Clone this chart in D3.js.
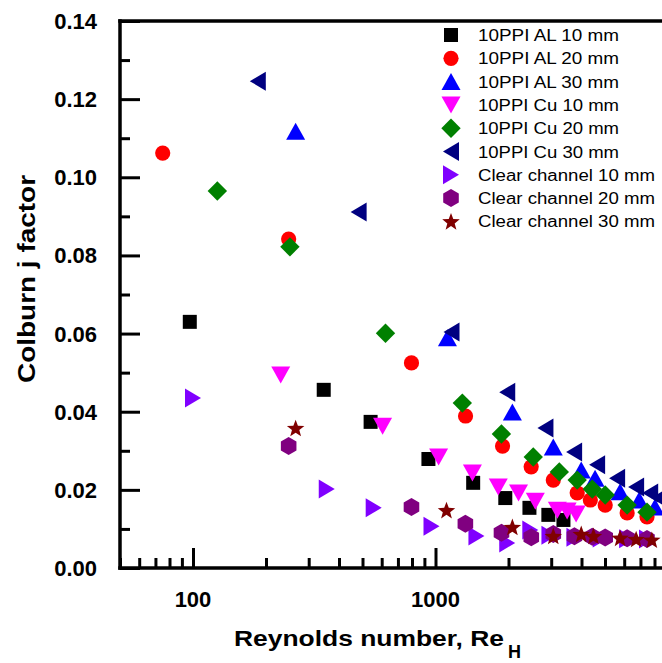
<!DOCTYPE html>
<html>
<head>
<meta charset="utf-8">
<script src="https://cdn.jsdelivr.net/npm/d3@7"></script>
<style>
  html, body { margin: 0; padding: 0; background: #fff; }
  svg { display: block; }
  text { font-family: "Liberation Sans", Arial, sans-serif; }
</style>
</head>
<body>
<svg id="chart" width="662" height="663"></svg>
<script>
// Colburn j factor vs Reynolds number for metal foams and clear channels
const alRe10 = [97, 346, 540, 935, 1430, 1940, 2440, 2920, 3370];
const alJ10  = [0.0630, 0.0456, 0.0374, 0.0279, 0.0218, 0.0179, 0.0154, 0.0136, 0.0123];

const alRe20 = [75, 248, 796, 1330, 1890, 2480, 3060, 3840, 4350, 5010, 6170, 7450];
const alJ20  = [0.1062, 0.0842, 0.0525, 0.0389, 0.0312, 0.0259, 0.0225, 0.0192, 0.0174, 0.0161, 0.0141, 0.0131];

const alRe30 = [265, 1120, 2075, 3060, 3990, 4550, 5770, 6920, 8040];
const alJ30  = [0.1118, 0.0589, 0.0399, 0.0310, 0.0251, 0.0230, 0.0195, 0.0174, 0.0156];

const cuRe10 = [230, 605, 1030, 1420, 1815, 2200, 2580, 3180, 3490, 3800];
const cuJ10  = [0.0494, 0.0363, 0.0284, 0.0243, 0.0207, 0.0192, 0.0171, 0.0148, 0.0146, 0.0138];

const cuRe20 = [126, 251, 622, 1290, 1870, 2530, 3240, 3840, 4430, 5010, 6170, 7450];
const cuJ20  = [0.0965, 0.0822, 0.0601, 0.0422, 0.0343, 0.0284, 0.0246, 0.0225, 0.0202, 0.0187, 0.0161, 0.0143];

const cuRe30 = [185, 482, 1164, 1976, 2840, 3730, 4640, 5610, 6720, 7680, 8360];
const cuJ30  = [0.1246, 0.0911, 0.0604, 0.0450, 0.0358, 0.0297, 0.0264, 0.0230, 0.0207, 0.0192, 0.0179];

const clRe10 = [100, 356, 556, 963, 1475, 1976, 2460, 2950, 3740, 4800, 6170, 7450];
const clJ10  = [0.0435, 0.0202, 0.0154, 0.0107, 0.0082, 0.0064, 0.0097, 0.0084, 0.0079, 0.0077, 0.0075, 0.0074];

const clRe20 = [248, 796, 1328, 1871, 2483, 3060, 3740, 4430, 5010, 6170, 7450];
const clJ20  = [0.0312, 0.0156, 0.0113, 0.0090, 0.0079, 0.0087, 0.0081, 0.0080, 0.0078, 0.0076, 0.0074];

const clRe30 = [265, 1110, 2075, 3060, 3990, 4480, 5770, 6720, 7800];
const clJ30  = [0.0358, 0.0148, 0.0105, 0.0082, 0.0087, 0.0082, 0.0077, 0.0074, 0.0072];

const seriesNames = [
  "10PPI AL 10 mm", "10PPI AL 20 mm", "10PPI AL 30 mm",
  "10PPI Cu 10 mm", "10PPI Cu 20 mm", "10PPI Cu 30 mm",
  "Clear channel 10 mm", "Clear channel 20 mm", "Clear channel 30 mm"
];
const xTickValues = [100, 1000];
const yTickValues = [0, 0.02, 0.04, 0.06, 0.08, 0.10, 0.12, 0.14];

// marker look for each series, in the same order as the names
const markerStyles = [
  { shape: "square",   color: "#000000" },
  { shape: "circle",   color: "#ff0000" },
  { shape: "triUp",    color: "#0000ff" },
  { shape: "triDown",  color: "#ff00ff" },
  { shape: "diamond",  color: "#008000" },
  { shape: "triLeft",  color: "#000080" },
  { shape: "triRight", color: "#8000ff" },
  { shape: "hexagon",  color: "#800080" },
  { shape: "star",     color: "#800000" }
];

const reLists = [alRe10, alRe20, alRe30, cuRe10, cuRe20, cuRe30, clRe10, clRe20, clRe30];
const jLists  = [alJ10, alJ20, alJ30, cuJ10, cuJ20, cuJ30, clJ10, clJ20, clJ30];
const series = seriesNames.map((name, i) => ({
  name,
  style: markerStyles[i],
  points: reLists[i].map((re, k) => ({ re, j: jLists[i][k] }))
}));

const svg = d3.select("#chart");
const plotLeft = 120, plotRight = 678, plotTop = 21, plotBottom = 568;

const x = d3.scaleLog().domain([50, 10000]).range([plotLeft, plotRight]);
const y = d3.scaleLinear().domain([0, 0.14]).range([plotBottom, plotTop]);

// marker path generators, centred on their bounding boxes
function markerPath(shape) {
  switch (shape) {
    case "square": { const h = 7; return `M${-h},${-h}H${h}V${h}H${-h}Z`; }
    case "circle": { const r = 7.6; return `M${r},0A${r},${r} 0 1,1 ${-r},0A${r},${r} 0 1,1 ${r},0Z`; }
    case "triUp":    { const w = 9.5, h = 8.5; return `M0,${-h}L${w},${h}L${-w},${h}Z`; }
    case "triDown":  { const w = 9.5, h = 8.5; return `M0,${h}L${w},${-h}L${-w},${-h}Z`; }
    case "triLeft":  { const w = 8, h = 9.5; return `M${-w},0L${w},${-h}L${w},${h}Z`; }
    case "triRight": { const w = 8, h = 9.5; return `M${w},0L${-w},${-h}L${-w},${h}Z`; }
    case "diamond":  { const r = 9.7; return `M0,${-r}L${r},0L0,${r}L${-r},0Z`; }
    case "hexagon": {
      const r = 9;
      const pts = d3.range(6).map(k => {
        const a = Math.PI / 3 * k - Math.PI / 2;
        return [r * Math.cos(a), r * Math.sin(a)];
      });
      return "M" + pts.map(p => p.join(",")).join("L") + "Z";
    }
    case "star": {
      const R = 9.2, r = R * 0.42;
      const pts = d3.range(10).map(k => {
        const a = Math.PI / 5 * k - Math.PI / 2;
        const rr = k % 2 ? r : R;
        return [rr * Math.cos(a), rr * Math.sin(a) + 0.8];
      });
      return "M" + pts.map(p => p.join(",")).join("L") + "Z";
    }
  }
}

// data markers, later series drawn on top
const layer = svg.append("g");
series.forEach(s => {
  layer.append("g")
    .selectAll("path")
    .data(s.points)
    .join("path")
    .attr("d", markerPath(s.style.shape))
    .attr("transform", d => `translate(${x(d.re)},${y(d.j)})`)
    .attr("fill", s.style.color);
});

// axes
const axisColor = "#000";
const xMinor = x.ticks().filter(v => !xTickValues.includes(v));
const xAxisMinor = d3.axisTop(x).tickValues(xMinor).tickSize(10).tickFormat("");
const xAxisMajor = d3.axisTop(x).tickValues(xTickValues).tickSize(20).tickFormat("");
const gx1 = svg.append("g").attr("transform", `translate(0,${plotBottom})`).call(xAxisMinor);
const gx2 = svg.append("g").attr("transform", `translate(0,${plotBottom})`).call(xAxisMajor);

const yMinor = d3.range(0.01, 0.14, 0.02);
const yAxisMinor = d3.axisRight(y).tickValues(yMinor).tickSize(10).tickFormat("");
const yAxisMajor = d3.axisRight(y).tickValues(yTickValues).tickSize(20).tickFormat("");
const gy1 = svg.append("g").attr("transform", `translate(${plotLeft},0)`).call(yAxisMinor);
const gy2 = svg.append("g").attr("transform", `translate(${plotLeft},0)`).call(yAxisMajor);

[gx1, gx2, gy1, gy2].forEach(g => {
  g.select(".domain").remove();
  g.selectAll(".tick line").attr("stroke", axisColor).attr("stroke-width", 3);
});

// frame lines
svg.append("line").attr("x1", plotLeft).attr("x2", plotRight).attr("y1", plotBottom).attr("y2", plotBottom)
  .attr("stroke", axisColor).attr("stroke-width", 3.5).attr("stroke-linecap", "square");
svg.append("line").attr("x1", plotLeft).attr("x2", plotLeft).attr("y1", plotTop).attr("y2", plotBottom)
  .attr("stroke", axisColor).attr("stroke-width", 3.5).attr("stroke-linecap", "square");
svg.append("line").attr("x1", plotLeft).attr("x2", plotRight).attr("y1", plotTop).attr("y2", plotTop)
  .attr("stroke", axisColor).attr("stroke-width", 3.5).attr("stroke-linecap", "square");

// tick labels
svg.append("g").selectAll("text")
  .data(xTickValues).join("text")
  .attr("x", d => x(d)).attr("y", 607)
  .attr("text-anchor", "middle")
  .attr("font-size", 22).attr("font-weight", "bold")
  .text(d => d3.format("d")(d));

svg.append("g").selectAll("text")
  .data(yTickValues).join("text")
  .attr("x", 97).attr("y", d => y(d) + 8)
  .attr("text-anchor", "end")
  .attr("font-size", 22).attr("font-weight", "bold")
  .text(d => d3.format(".2f")(d));

// axis titles
svg.append("text").attr("x", 234).attr("y", 646)
  .attr("font-size", 22).attr("font-weight", "bold")
  .attr("textLength", 270).attr("lengthAdjust", "spacingAndGlyphs")
  .text("Reynolds number, Re");
svg.append("text").attr("x", 508).attr("y", 658)
  .attr("font-size", 18).attr("font-weight", "bold")
  .text("H");

svg.append("text")
  .attr("transform", "translate(35,279) rotate(-90)")
  .attr("text-anchor", "middle")
  .attr("font-size", 24).attr("font-weight", "bold")
  .attr("textLength", 208).attr("lengthAdjust", "spacingAndGlyphs")
  .text("Colburn j factor");

// legend
const legend = svg.append("g");
const rowH = 23.3;
series.forEach((s, i) => {
  const cy = 35 + i * rowH;
  legend.append("path")
    .attr("d", markerPath(s.style.shape))
    .attr("transform", `translate(451,${cy})`)
    .attr("fill", s.style.color);
  const tw = s.name.startsWith("Clear") ? 177 : 141;
  legend.append("text")
    .attr("x", 478).attr("y", cy + 6)
    .attr("font-size", 16)
    .attr("textLength", tw).attr("lengthAdjust", "spacingAndGlyphs")
    .text(s.name);
});
</script>
</body>
</html>
